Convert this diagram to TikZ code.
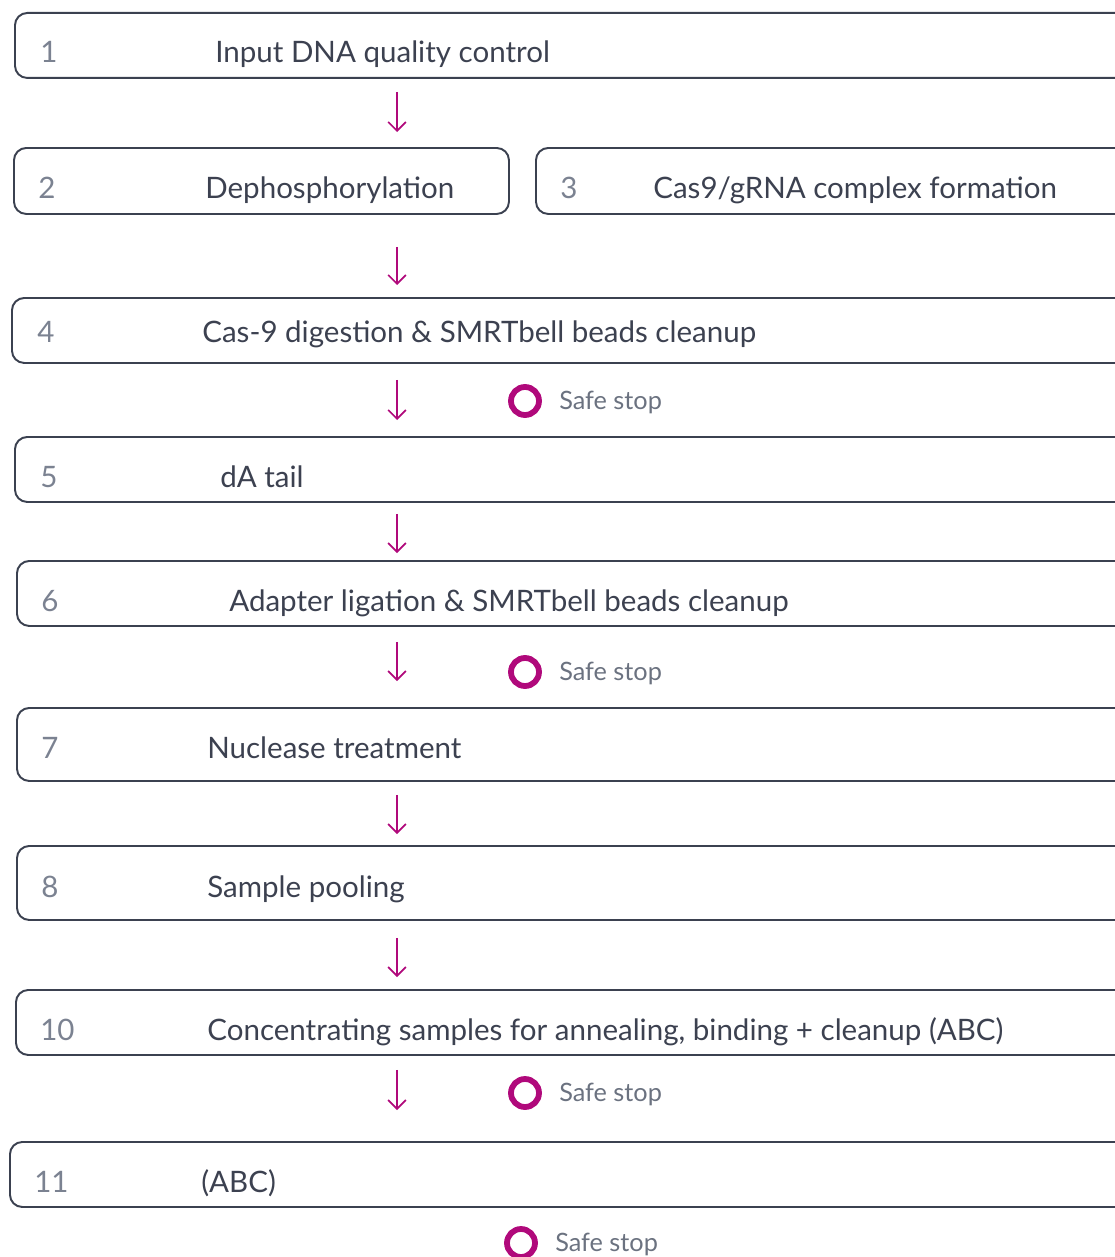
\documentclass[tikz,border=0pt]{standalone}
\usepackage{fontspec}
\setmainfont{Lato}
\usetikzlibrary{positioning, calc, arrows.meta}

\definecolor{framecol}{HTML}{3B4150}
\definecolor{textcol}{HTML}{3C4150}
\definecolor{numcol}{HTML}{7B8291}
\definecolor{stopcol}{HTML}{6B7280}
\definecolor{accent}{HTML}{B0097B}

\begin{document}
\begin{tikzpicture}[
    x=0.02cm, y=-0.02cm,
    stepbox/.style={rectangle, draw=framecol, line width=1.1pt, rounded corners=7pt, anchor=north west, inner sep=0pt},
    num/.style={anchor=base west, inner sep=0pt, text=numcol, font=\fontsize{16.8}{18}\selectfont},
    label/.style={anchor=base west, inner sep=0pt, text=textcol, font=\fontsize{16.8}{18}\selectfont},
    safe/.style={circle, draw=accent, line width=3.3pt, minimum size=0.56cm, inner sep=0pt},
    safetext/.style={anchor=west, inner sep=0pt, text=stopcol, font=\fontsize{14.4}{16}\selectfont},
    arrow/.style={-{Straight Barb[length=5pt, width=10pt, line width=1pt]}, draw=accent, line width=1pt}
]
    \useasboundingbox (0,0) rectangle (1115,1257);
    \clip (0,0) rectangle (1115,1257);

    % arrow column
    \coordinate (ax) at (397,0);

    % Step 1
    \node[stepbox, minimum width=1120*0.02cm, minimum height=65*0.02cm] (b1) at (14,12) {};
    \node[num] (n1) at (40,63) {1};
    \node[label] (t1) at (215,63) {Input DNA quality control};

    % Step 2
    \node[stepbox, minimum width=495*0.02cm, minimum height=66*0.02cm] (b2) at (13,147) {};
    \node[num] (n2) at (38,198) {2};
    \node[label] (t2) at (205,198) {Dephosphorylation};

    % Step 3
    \node[stepbox, minimum width=600*0.02cm, minimum height=66*0.02cm] (b3) at (535,147) {};
    \node[num] (n3) at (560,198) {3};
    \node[label] (t3) at (653,198) {Cas9/gRNA complex formation};

    % Step 4
    \node[stepbox, minimum width=1120*0.02cm, minimum height=65*0.02cm] (b4) at (11,297) {};
    \node[num] (n4) at (37,342) {4};
    \node[label] (t4) at (202,342) {Cas-9 digestion \& SMRTbell beads cleanup};

    % Step 5
    \node[stepbox, minimum width=1120*0.02cm, minimum height=65*0.02cm] (b5) at (14,436) {};
    \node[num] (n5) at (40,487) {5};
    \node[label] (t5) at (220,487) {dA tail};

    % Step 6
    \node[stepbox, minimum width=1120*0.02cm, minimum height=65*0.02cm] (b6) at (16,560) {};
    \node[num] (n6) at (41,611) {6};
    \node[label] (t6) at (229,611) {Adapter ligation \& SMRTbell beads cleanup};

    % Step 7
    \node[stepbox, minimum width=1120*0.02cm, minimum height=73*0.02cm] (b7) at (16,707) {};
    \node[num] (n7) at (41,758) {7};
    \node[label] (t7) at (207,758) {Nuclease treatment};

    % Step 8
    \node[stepbox, minimum width=1120*0.02cm, minimum height=74*0.02cm] (b8) at (16,845) {};
    \node[num] (n8) at (41,897) {8};
    \node[label] (t8) at (207,897) {Sample pooling};

    % Step 10
    \node[stepbox, minimum width=1120*0.02cm, minimum height=65*0.02cm] (b10) at (15,989) {};
    \node[num] (n10) at (40,1040) {10};
    \node[label] (t10) at (207,1040) {Concentrating samples for annealing, binding + cleanup (ABC)};

    % Step 11
    \node[stepbox, minimum width=1120*0.02cm, minimum height=65*0.02cm] (b11) at (9,1141) {};
    \node[num] (n11) at (34,1192) {11};
    \node[label] (t11) at (201,1192) {(ABC)};

    % Safe stops
    \node[safe] (s1) at (525,401) {};
    \node[safetext, right=0.34cm of s1, yshift=-1pt] {Safe stop};
    \node[safe] (s2) at (525,672) {};
    \node[safetext, right=0.34cm of s2, yshift=-1pt] {Safe stop};
    \node[safe] (s3) at (525,1093) {};
    \node[safetext, right=0.34cm of s3, yshift=-1pt] {Safe stop};
    \node[safe] (s4) at (521,1243) {};
    \node[safetext, right=0.34cm of s4, yshift=-1pt] {Safe stop};

    % Arrows
    \draw[arrow, shorten <=13*0.02cm, shorten >=15*0.02cm] (b1.south -| ax) -- (b2.north -| ax);
    \draw[arrow, shorten <=32*0.02cm, shorten >=12*0.02cm] (b2.south -| ax) -- (b4.north -| ax);
    \draw[arrow, shorten <=16*0.02cm, shorten >=16*0.02cm] (b4.south -| ax) -- (b5.north -| ax);
    \draw[arrow, shorten <=11*0.02cm, shorten >=7*0.02cm] (b5.south -| ax) -- (b6.north -| ax);
    \draw[arrow, shorten <=15*0.02cm, shorten >=26*0.02cm] (b6.south -| ax) -- (b7.north -| ax);
    \draw[arrow, shorten <=13*0.02cm, shorten >=11*0.02cm] (b7.south -| ax) -- (b8.north -| ax);
    \draw[arrow, shorten <=17*0.02cm, shorten >=12*0.02cm] (b8.south -| ax) -- (b10.north -| ax);
    \draw[arrow, shorten <=14*0.02cm, shorten >=31*0.02cm] (b10.south -| ax) -- (b11.north -| ax);

\end{tikzpicture}
\end{document}
